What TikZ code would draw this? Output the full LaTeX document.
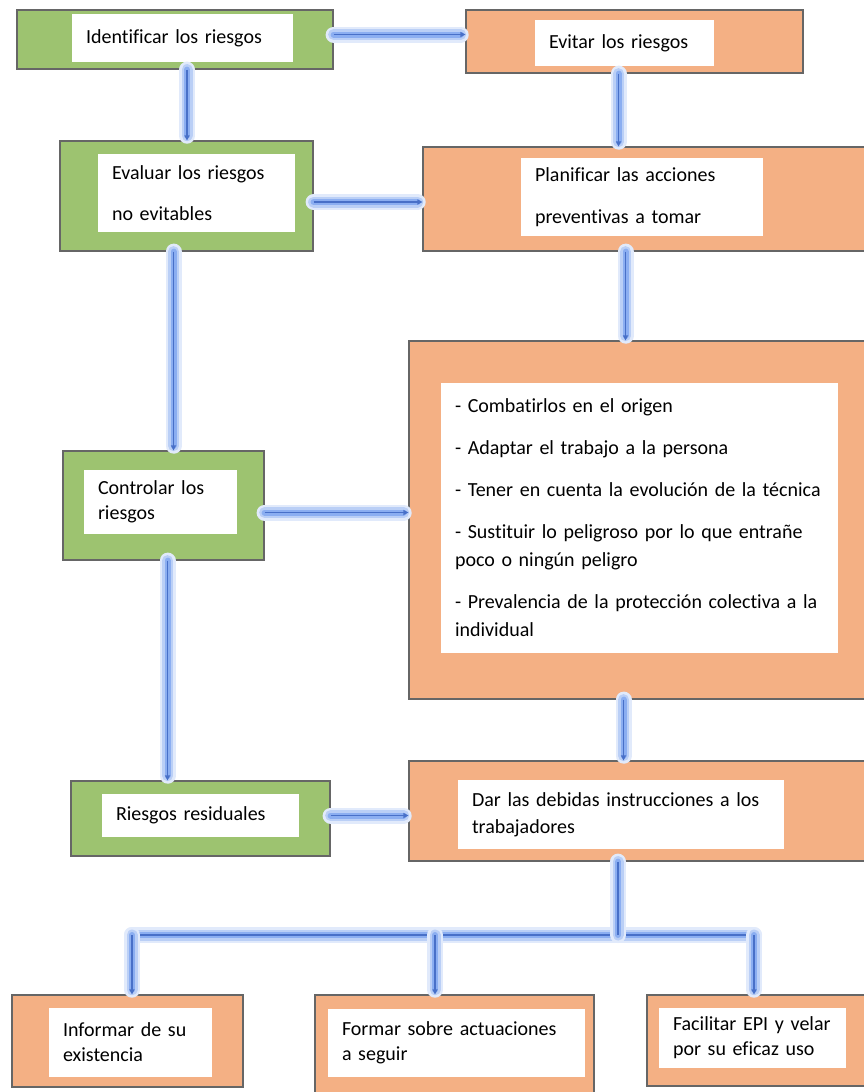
\documentclass[tikz,border=0pt]{standalone}
\usepackage{fontspec}
\setmainfont{Carlito}[Ligatures=NoCommon]
\usepackage{tikz}
\usetikzlibrary{arrows.meta}

\definecolor{boxgreen}{RGB}{157,195,112}
\definecolor{boxorange}{RGB}{244,176,132}
\definecolor{flowblue}{RGB}{72,112,200}
\definecolor{glowblue}{RGB}{118,160,238}

\begin{document}
\begin{tikzpicture}[x=1pt, y=-1pt, >={Triangle[length=5pt, width=5pt]},
  outerbox/.style={draw=black!60, line width=1.2pt, inner sep=0pt},
  greenbox/.style={outerbox, fill=boxgreen},
  orangebox/.style={outerbox, fill=boxorange},
  txtbox/.style={fill=white, inner xsep=14pt, inner ysep=0pt, align=left,
    font=\fontsize{20}{25}\selectfont},
  flowline/.style={draw=flowblue, line width=1.2pt,
    preaction={draw=glowblue!22, line width=16pt, line cap=round},
    preaction={draw=glowblue!50, line width=11pt, line cap=round},
    preaction={draw=glowblue!85, line width=6pt, line cap=round}},
  flow/.style={flowline, ->}]
  \fill[white] (0,0) rectangle (863,1092);
  \useasboundingbox (0,0) rectangle (863,1092);

  % left column (green)
  \node[greenbox, minimum width=316pt, minimum height=59pt] (ident) at (175,39.5) {};
  \node[txtbox, text width=193pt, minimum height=48pt] (identtxt) at (182.5,38) {Identificar los riesgos};
  \node[greenbox, minimum width=253pt, minimum height=110pt] (eval) at (186.5,196) {};
  \node[txtbox, text width=169pt, minimum height=78pt, font=\fontsize{20}{41}\selectfont] (evaltxt) at (196.5,193) {Evaluar los riesgos\\no evitables};
  \node[greenbox, minimum width=201pt, minimum height=109pt] (ctrl) at (163.5,505.5) {};
  \node[txtbox, text width=125pt, minimum height=64pt] (ctrltxt) at (160.5,502) {Controlar los\\riesgos};
  \node[greenbox, minimum width=259pt, minimum height=75pt] (resid) at (200.5,818.5) {};
  \node[txtbox, text width=169pt, minimum height=43pt] (residtxt) at (200.5,815.5) {Riesgos residuales};

  % right column (orange)
  \node[orangebox, minimum width=337pt, minimum height=63pt] (evitar) at (634.5,41.5) {};
  \node[txtbox, text width=151pt, minimum height=46pt] (evitartxt) at (624.5,43) {Evitar los riesgos};
  \node[orangebox, minimum width=443pt, minimum height=104pt] (plan) at (644.5,199) {};
  \node[txtbox, text width=214pt, minimum height=78pt, font=\fontsize{20}{42}\selectfont] (plantxt) at (642,197) {Planificar las acciones\\preventivas a tomar};
  \node[orangebox, minimum width=457pt, minimum height=358pt] (medidas) at (637.5,520) {};
  \node[txtbox, text width=369pt, minimum height=270pt, font=\fontsize{20}{28}\selectfont] (medidastxt) at (639.5,518) {%
    - Combatirlos en el origen\\[14pt]
    - Adaptar el trabajo a la persona\\[14pt]
    - Tener en cuenta la evolución de la técnica\\[14pt]
    - Sustituir lo peligroso por lo que entrañe\\poco o ningún peligro\\[14pt]
    - Prevalencia de la protección colectiva a la\\individual};
  \node[orangebox, minimum width=457pt, minimum height=100pt] (instr) at (637.5,811) {};
  \node[txtbox, text width=298pt, minimum height=69pt, font=\fontsize{20}{27}\selectfont] (instrtxt) at (621,814.5) {Dar las debidas instrucciones a los\\trabajadores};

  % bottom row
  \node[orangebox, minimum width=231pt, minimum height=92pt] (inform) at (127.5,1041) {};
  \node[txtbox, text width=135pt, minimum height=69pt] (informtxt) at (130.5,1042.5) {Informar de su\\existencia};
  \node[orangebox, minimum width=279pt, minimum height=100pt] (formar) at (454.5,1045) {};
  \node[txtbox, text width=229pt, minimum height=68pt] (formartxt) at (456.5,1043) {Formar sobre actuaciones\\a seguir};
  \node[orangebox, minimum width=219pt, minimum height=91pt] (epi) at (756.5,1040.5) {};
  \node[txtbox, text width=159pt, minimum height=60pt] (epitxt) at (752.5,1038) {Facilitar EPI y velar\\por su eficaz uso};

  % connectors
  \draw[flow] ([yshift=5pt]ident.east) -- ([yshift=5pt]ident.east -| evitar.west);
  \draw[flow] ([xshift=12pt]ident.south) -- ([xshift=12pt]ident.south |- eval.north);
  \draw[flow] ([xshift=-16pt]evitar.south) -- ([xshift=-16pt]evitar.south |- plan.north);
  \draw[flow] ([yshift=-6pt]eval.east) -- ([yshift=-6pt]eval.east -| plan.west);
  \draw[flow] ([xshift=-19pt]plan.south) -- ([xshift=-19pt]plan.south |- medidas.north);
  \draw[flow] ([xshift=-13pt]eval.south) -- ([xshift=-13pt]eval.south |- ctrl.north);
  \draw[flow] ([yshift=-7pt]ctrl.east) -- ([yshift=-7pt]ctrl.east -| medidas.west);
  \draw[flow] ([xshift=4pt]ctrl.south) -- ([xshift=4pt]ctrl.south |- resid.north);
  \draw[flow] ([yshift=3pt]resid.east) -- ([yshift=3pt]resid.east -| instr.west);
  \draw[flow] ([xshift=-14pt]medidas.south) -- ([xshift=-14pt]medidas.south |- instr.north);

  % distribution bus
  \coordinate (hub) at (618,935);
  \coordinate (busL) at (132,935);
  \coordinate (busM) at (435,935);
  \coordinate (busR) at (754,935);
  \draw[flowline] (busL) -- (busR);
  \draw[flowline] (instr.south -| hub) -- (hub);
  \draw[flow] (busL) -- (busL |- inform.north);
  \draw[flow] (busM) -- (busM |- formar.north);
  \draw[flow] (busR) -- (busR |- epi.north);
\end{tikzpicture}
\end{document}
